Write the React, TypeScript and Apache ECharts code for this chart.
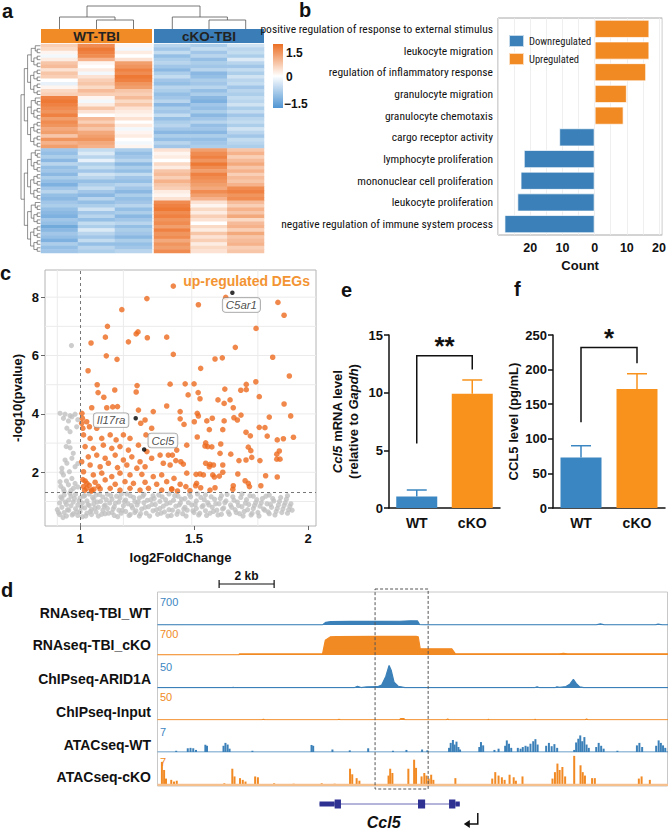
import React, { useEffect, useRef } from "react";
import * as echarts from "echarts";

const FONT = "'Liberation Sans', Arial, Helvetica, sans-serif";
const NARROW = "'Liberation Sans Narrow', 'Arial Narrow', 'Roboto Condensed', 'Liberation Sans', sans-serif";

const BLUE = "#3B80B8";
const ORANGE = "#F28A24";

// ---------- a: heatmap ----------
const samplesWT = ["WT-TBI 1", "WT-TBI 2", "WT-TBI 3"];
const samplesKO = ["cKO-TBI 1", "cKO-TBI 2", "cKO-TBI 3"];
const wt1 = [0.5, 0.4, 0.1, -0.1, 0.2, 0.6, 0.7, 0.3, 0.6, 0.5, 0.0, -0.2, 0.1, 0.4, 0.5, 1.3, 1.4, 1.3, 1.2, 1.1, 1.3, 1.0, 1.2, 1.1, 0.9, 1.0, 0.6, 1.1, 0.8, 1.0,
  -0.8, -0.9, -0.7, -1.0, -0.6, -0.9, -0.8, -1.0, -0.7, -0.9, -1.1, -0.8, -0.6, -0.9, -1.0, -0.8, -0.7, -0.9, -1.0, -1.1, -0.8, -0.9, -1.2, -1.0, -0.8, -0.9, -1.1, -0.7, -0.9, -0.8];
const wt2 = [1.2, 1.4, 1.3, 1.2, 0.8, 0.1, 0.0, 0.2, -0.1, 0.3, 0.5, 0.6, 0.4, 0.7, 0.5, 0.1, -0.1, 0.2, 0.6, 0.3, 0.0, 0.7, 0.5, 0.8, 0.6, 0.9, 1.0, 1.1, 0.9, 0.8,
  -0.5, -0.3, -0.6, -0.2, -0.7, -0.5, -0.8, -0.4, -0.6, -0.9, -0.7, -0.5, -0.8, -1.0, -0.6, -0.9, -0.7, -0.4, -0.8, -0.6, -0.9, -0.5, -0.7, -0.3, -0.6, -0.8, -0.5, -0.9, -0.6, -0.7];
const wt3 = [0.1, -0.1, 0.2, 0.0, 0.3, 1.0, 1.1, 1.3, 1.2, 1.4, 1.3, 1.1, 1.0, 0.6, 0.5, 0.7, 0.4, 0.6, 0.3, 0.2, 0.1, 0.3, 0.0, 0.2, -0.1, 0.1, 0.2, 0.0, -0.1, 0.1,
  -0.7, -0.9, -0.8, -0.6, -1.0, -0.7, -0.9, -0.5, -0.8, -0.9, -0.6, -0.8, -1.0, -0.7, -0.9, -0.8, -0.6, -0.9, -0.7, -1.0, -0.8, -0.6, -0.9, -0.7, -0.8, -1.0, -0.7, -0.9, -0.8, -0.6];
const ko1 = [-0.6, -0.8, -0.5, -0.9, -0.7, -0.6, -0.8, -1.0, -0.7, -0.5, -0.8, -0.9, -0.6, -0.7, -0.9, -0.8, -0.6, -1.0, -0.7, -0.8, -0.5, -0.9, -0.7, -0.6, -0.8, -1.0, -0.7, -0.9, -0.6, -0.8,
  0.3, 0.1, 0.2, 0.0, 0.4, 0.2, 0.6, 0.7, 0.5, 0.8, 0.6, 0.5, 0.2, 0.1, 0.3, 1.2, 1.3, 1.4, 1.2, 1.3, 1.1, 1.2, 1.0, 1.3, 1.1, 1.2, 0.9, 1.1, 1.0, 1.2];
const ko2 = [-0.7, -0.5, -0.8, -0.6, -0.9, -0.7, -0.8, -0.6, -1.0, -0.9, -0.7, -0.8, -0.6, -0.9, -0.7, -1.0, -1.1, -0.8, -0.9, -0.7, -1.0, -0.8, -0.6, -0.9, -0.8, -1.0, -0.7, -0.9, -0.8, -0.7,
  1.0, 1.2, 1.3, 1.1, 1.4, 1.2, 1.0, 1.3, 1.2, 1.1, 1.0, 0.9, 1.2, 1.0, 0.8, 0.3, 0.1, 0.4, 0.2, 0.5, 0.3, 0.0, 0.4, 0.2, 0.6, 0.3, 0.5, 0.2, 0.4, 0.3];
const ko3 = [-0.4, -0.6, -0.5, -0.7, -0.3, -0.6, -0.8, -0.5, -0.7, -0.4, -0.6, -0.5, -0.8, -0.6, -0.7, -0.5, -0.6, -0.4, -0.7, -0.5, -0.8, -0.6, -0.5, -0.7, -0.4, -0.6, -0.8, -0.5, -0.6, -0.7,
  0.6, 0.8, 0.5, 0.7, 0.9, 0.6, 0.8, 0.5, 0.7, 0.6, 0.8, 1.2, 1.3, 1.1, 1.2, 0.7, 0.5, 0.8, 0.6, 0.9, 0.4, 0.7, 0.8, 0.5, 0.9, 0.6, 0.7, 0.8, 0.5, 0.6];
const heatRows = wt1.map((_, i) => "gene" + (i + 1));
const colorBarTicks = ["1.5", "0", "\u22121.5"];

// ---------- b: GO terms ----------
const goTerms = [
  "positive regulation of response to external stimulus",
  "leukocyte migration",
  "regulation of inflammatory response",
  "granulocyte migration",
  "granulocyte chemotaxis",
  "cargo receptor activity",
  "lymphocyte proliferation",
  "mononuclear cell proliferation",
  "leukocyte proliferation",
  "negative regulation of immune system process",
];
const goCounts = [17, 17, 16, 10, 9, -11, -22, -23, -24, -28];

// ---------- c: volcano ----------
const upDegs = [
  [1.409, 8.38], [1.293, 7.95], [1.183, 7.57], [1.12, 7.0], [1.048, 6.43], [1.111, 6.63], [1.212, 6.47], [1.246, 6.74], [1.254, 6.81], [1.295, 6.61], [1.38, 6.63], [1.409, 6.04], [1.115, 5.99], [1.162, 5.87], [1.035, 5.48], [1.075, 5.0], [1.25, 4.97], [1.395, 5.02], [1.152, 4.82], [1.079, 4.73], [1.246, 4.75], [1.104, 4.57],
  [1.639, 7.99], [1.519, 7.74], [1.868, 7.82], [1.895, 7.38], [1.772, 6.93], [1.681, 6.28], [1.592, 5.88], [1.624, 5.92], [1.845, 5.94], [1.529, 5.56], [1.918, 5.3], [1.461, 5.03], [1.5, 5.03], [1.771, 5.1], [1.729, 5.01], [1.635, 4.85], [1.705, 4.81], [1.729, 4.83],
  [1.474, 4.65], [1.518, 4.73], [1.786, 4.59], [1.526, 4.52], [1.605, 4.48], [1.658, 4.48],
  [1.051, 4.21], [1.117, 4.21], [1.143, 4.24], [1.164, 4.25], [1.256, 4.13], [1.321, 4.08], [1.38, 4.27], [1.008, 4.02], [1.01, 3.85], [1.007, 3.68], [1.029, 3.73], [1.041, 3.56], [1.073, 3.51], [1.012, 3.51], [1.266, 3.68], [1.285, 3.79], [1.015, 3.28], [1.044, 3.16], [1.095, 3.16], [1.132, 3.28], [1.158, 3.11], [1.19, 3.28], [1.219, 3.16], [1.256, 2.93], [1.289, 3.28], [1.314, 3.51],
  [1.022, 2.88], [1.058, 2.82], [1.102, 2.93], [1.139, 2.82], [1.175, 2.88], [1.212, 2.76], [1.293, 2.71], [1.036, 2.53], [1.073, 2.59], [1.11, 2.48], [1.154, 2.59], [1.19, 2.42], [1.227, 2.53], [1.263, 2.36], [1.314, 2.48], [1.351, 2.59], [1.387, 2.59], [1.007, 2.36], [1.044, 2.25], [1.088, 2.19], [1.124, 2.31], [1.164, 2.16], [1.205, 2.25], [1.249, 2.14], [1.285, 2.19], [1.365, 2.31], [1.395, 2.25],
  [1.015, 2.02], [1.058, 1.91], [1.095, 1.97], [1.139, 1.85], [1.175, 1.97], [1.219, 1.91], [1.271, 1.93], [1.321, 1.85], [1.358, 1.91], [1.022, 1.7], [1.066, 1.66], [1.11, 1.74], [1.154, 1.59], [1.197, 1.68], [1.234, 1.62], [1.285, 1.66], [1.336, 1.59], [1.38, 1.68], [1.015, 1.51], [1.029, 1.45], [1.051, 1.39], [1.088, 1.43], [1.132, 1.45], [1.175, 1.39], [1.219, 1.45], [1.263, 1.39], [1.3, 1.45], [1.358, 1.39], [1.402, 1.43], [1.02, 1.38], [1.04, 1.55], [1.06, 1.42], [1.03, 1.62], [1.012, 1.75], [1.05, 1.36], [1.08, 1.52],
  [1.632, 4.36], [1.895, 4.34], [1.672, 4.21], [1.439, 4.08], [1.514, 4.02], [1.519, 3.93], [1.58, 3.85], [1.556, 3.76], [1.501, 3.73], [1.439, 3.83], [1.456, 3.64], [1.632, 3.76], [1.675, 3.87], [1.69, 3.79], [1.706, 3.96], [1.83, 3.89], [1.924, 3.93], [1.567, 3.46], [1.626, 3.46], [1.786, 3.54], [1.811, 3.53], [1.728, 3.37], [1.747, 3.25], [1.514, 3.21], [1.821, 3.24], [1.936, 3.2], [1.892, 3.15], [1.865, 3.11],
  [1.551, 3.01], [1.617, 2.97], [1.468, 2.93], [1.548, 2.9], [1.56, 2.88], [1.578, 2.87], [1.738, 2.86], [1.749, 2.74], [1.874, 2.73], [1.863, 2.62], [1.424, 2.76], [1.405, 2.59], [1.614, 2.65], [1.661, 2.62], [1.753, 2.51], [1.863, 2.45], [1.877, 2.45], [1.42, 2.4], [1.442, 2.36], [1.453, 2.28], [1.551, 2.31], [1.57, 2.27], [1.585, 2.25], [1.567, 2.19], [1.697, 2.4], [1.728, 2.42], [1.789, 2.4], [1.626, 2.25],
  [1.468, 1.97], [1.509, 1.93], [1.526, 1.94], [1.541, 1.91], [1.582, 1.91], [1.589, 1.84], [1.611, 1.87], [1.626, 2.0], [1.692, 1.94], [1.814, 1.88], [1.865, 1.84], [1.412, 1.79], [1.724, 1.71], [1.738, 1.62], [1.743, 1.51], [1.793, 1.54], [1.439, 1.59], [1.464, 1.51], [1.507, 1.54], [1.511, 1.62], [1.529, 1.47], [1.592, 1.47], [1.672, 1.54], [1.402, 1.42], [1.427, 1.36], [1.482, 1.37], [1.57, 1.39], [1.67, 1.42],
];
const nsGenes = [
  [0.962, 6.34],
  [0.912, 4.02], [0.934, 3.99], [0.956, 3.94], [0.978, 3.99], [0.927, 3.85], [0.949, 3.76], [0.964, 3.9], [0.985, 3.56], [0.942, 3.51], [0.956, 3.39], [0.939, 2.88], [0.956, 2.84], [0.934, 2.42], [0.964, 2.48], [0.942, 2.31], [0.92, 2.14], [0.953, 2.02], [0.978, 2.19], [0.927, 1.91], [0.964, 1.79], [0.912, 1.68], [0.949, 1.57], [0.978, 1.62], [0.927, 1.43], [0.971, 1.45], [0.93, 1.35], [0.96, 1.38], [0.99, 1.5], [0.915, 1.52], [0.94, 1.7], [0.99, 2.3], [0.97, 2.65], [0.95, 3.05], [0.99, 3.8], [0.92, 2.0],
  [0.9, 0.72], [0.91, 0.95], [0.91, 0.55], [0.92, 1.1], [0.92, 0.8], [0.93, 0.62], [0.93, 1.22], [0.94, 0.9], [0.94, 0.5], [0.95, 1.05], [0.95, 0.7], [0.96, 0.85], [0.96, 1.18], [0.97, 0.58], [0.97, 0.98], [0.98, 0.75], [0.98, 1.25], [0.99, 0.52], [0.99, 0.88], [1.0, 1.12], [1.0, 0.66], [1.01, 0.95], [1.01, 0.48], [1.02, 1.2], [1.02, 0.78], [1.03, 0.6], [1.03, 1.02], [1.04, 0.86], [1.04, 1.26], [1.05, 0.55], [1.05, 0.72], [1.06, 1.08], [1.06, 0.92], [1.07, 0.64], [1.07, 1.22], [1.08, 0.8], [1.08, 0.5], [1.09, 1.0], [1.1, 0.7], [1.1, 1.15], [1.11, 0.88], [1.11, 0.58], [1.12, 1.25], [1.12, 0.76], [1.13, 0.95], [1.14, 0.62], [1.14, 1.08], [1.15, 0.82], [1.15, 0.52], [1.16, 1.18], [1.17, 0.7], [1.17, 0.98], [1.18, 0.6], [1.18, 1.26], [1.19, 0.85], [1.2, 1.05], [1.2, 0.66], [1.21, 0.92], [1.22, 0.55], [1.22, 1.2], [1.23, 0.78], [1.24, 1.0], [1.24, 0.62], [1.25, 0.88], [1.26, 1.12], [1.26, 0.5], [1.27, 0.74], [1.28, 0.96], [1.28, 1.24], [1.29, 0.6], [1.3, 0.82], [1.31, 1.06], [1.32, 0.68], [1.32, 1.2], [1.33, 0.9], [1.34, 0.56], [1.35, 1.0], [1.35, 0.76], [1.36, 1.16], [1.37, 0.64], [1.38, 0.92], [1.39, 1.26], [1.39, 0.72], [1.4, 0.52], [1.41, 1.04], [1.42, 0.84], [1.43, 0.66], [1.43, 1.18], [1.44, 0.95], [1.45, 0.58], [1.46, 0.8], [1.46, 1.1], [1.47, 0.7], [1.48, 1.24], [1.49, 0.88], [1.5, 0.62], [1.51, 1.02], [1.51, 0.76], [1.52, 0.54], [1.53, 1.14], [1.54, 0.86], [1.55, 0.68], [1.55, 1.22], [1.56, 0.96], [1.57, 0.6], [1.58, 0.8], [1.59, 1.08], [1.6, 0.7], [1.61, 0.92], [1.62, 1.2], [1.62, 0.56], [1.63, 0.78], [1.64, 1.02], [1.65, 0.64], [1.66, 0.88], [1.67, 1.16], [1.68, 0.72], [1.69, 0.98], [1.7, 0.58], [1.71, 1.26], [1.71, 0.82], [1.72, 0.66], [1.73, 1.06], [1.74, 0.9], [1.75, 0.54], [1.76, 0.76], [1.76, 1.18], [1.77, 0.96], [1.78, 0.62], [1.79, 0.84], [1.8, 1.1], [1.81, 0.7], [1.82, 0.92], [1.83, 0.58], [1.83, 1.22], [1.84, 0.8], [1.85, 1.02], [1.86, 0.66], [1.87, 0.88], [1.88, 1.14], [1.89, 0.74], [1.9, 0.96], [1.91, 0.6], [1.91, 1.2], [1.92, 0.84], [1.93, 0.7],
  [0.905, 0.62], [0.915, 1.15], [0.925, 0.45], [0.935, 0.98], [0.945, 0.72], [0.955, 1.28], [0.965, 0.54], [0.975, 1.1], [0.985, 0.64], [0.995, 1.02], [1.005, 0.8], [1.015, 1.18], [1.025, 0.5], [1.035, 0.9], [1.045, 0.66], [1.055, 1.14], [1.065, 0.78], [1.075, 0.98], [1.085, 1.24], [1.095, 0.56], [1.105, 0.84], [1.115, 1.06], [1.125, 0.6], [1.135, 1.2], [1.145, 0.74], [1.155, 0.94], [1.165, 0.48], [1.175, 1.12], [1.185, 0.7], [1.195, 1.0], [1.205, 1.26], [1.215, 0.52], [1.225, 0.86], [1.235, 1.14], [1.245, 0.68], [1.255, 0.98], [1.265, 0.58], [1.275, 1.18], [1.285, 0.8], [1.295, 1.04], [1.305, 0.5], [1.315, 0.9], [1.325, 1.1], [1.335, 0.72], [1.345, 1.22], [1.355, 0.6], [1.365, 0.84], [1.375, 1.06], [1.385, 0.5], [1.395, 0.96], [1.405, 0.7], [1.415, 1.2], [1.425, 0.56], [1.435, 0.88], [1.445, 1.08], [1.455, 0.74], [1.465, 0.5], [1.475, 0.96], [1.485, 1.16], [1.495, 0.68], [1.505, 0.9], [1.515, 1.26], [1.525, 0.6], [1.535, 0.82], [1.545, 1.06], [1.555, 0.52], [1.565, 0.88], [1.575, 1.16], [1.585, 0.66], [1.595, 0.92], [1.605, 0.54], [1.615, 1.1], [1.625, 0.74], [1.635, 0.96], [1.645, 1.24], [1.655, 0.56], [1.665, 0.8], [1.675, 1.04], [1.685, 0.62], [1.695, 0.86], [1.705, 1.14], [1.715, 0.5], [1.725, 0.94], [1.735, 0.72], [1.745, 1.2], [1.755, 0.6], [1.765, 0.86], [1.775, 1.06], [1.785, 0.5], [1.795, 0.96], [1.805, 0.74], [1.815, 1.18], [1.825, 0.64], [1.835, 0.9], [1.845, 1.1], [1.855, 0.54], [1.865, 0.76], [1.875, 1.0], [1.885, 0.62], [1.895, 0.86], [1.905, 1.08], [1.915, 0.72], [1.925, 0.92],
];
const labeledGenes = [
  { name: "C5ar1", x: 1.668, y: 8.15 },
  { name: "Il17ra", x: 1.244, y: 3.85 },
  { name: "Ccl5", x: 1.281, y: 2.78 },
];
const fcCutoff = 1;
const pCutoff = 1.3;
const volcanoGridX = [0.9, 1.19, 1.49, 1.78];
const volcanoGridY = [1, 2, 3, 4, 5, 6, 7, 8];

// ---------- e / f ----------
const groups = ["WT", "cKO"];
const ccl5Mrna = [1.0, 9.9];
const ccl5MrnaSem = [0.56, 1.2];
const ccl5Protein = [73, 172];
const ccl5ProteinSem = [17, 22];
// [left leg bottom, bracket top, right leg bottom, star centre]
const mrnaBracket = [5.6, 13.2, 12.0, 14.6];
const proteinBracket = [124, 232, 209, 255];
const sigLabels = ["**", "*"];

// ---------- d: genome tracks (kb) ----------
const regionKb = 18.56;
const trackNames = ["RNAseq-TBI_WT", "RNAseq-TBI_cKO", "ChIPseq-ARID1A", "ChIPseq-Input", "ATACseq-WT", "ATACseq-cKO"];
const trackScales = [700, 700, 50, 50, 7, 7];
const rnaWt = [[0, 3], [6.0, 3], [6.12, 60], [6.3, 78], [7.0, 80], [8.0, 82], [8.8, 85], [9.2, 95], [9.45, 92], [9.53, 8], [9.7, 3], [15.95, 3], [16.1, 25], [16.25, 3], [18.1, 3], [18.2, 18], [18.35, 3], [18.56, 3]];
const rnaKo = [[0, 4], [2.96, 4], [2.98, 28], [6.0, 28], [6.1, 380], [6.28, 470], [6.5, 480], [8.0, 482], [9.4, 485], [9.48, 470], [9.55, 165], [10.7, 160], [10.83, 30], [14.6, 30], [14.76, 45], [14.9, 30], [18.56, 30]];
const chipArid = [[0, 0.5], [2.7, 0.5], [2.75, 1.2], [2.8, 0.5], [7.15, 0.5], [7.27, 3], [7.4, 0.8], [7.6, 1.8], [8.0, 2.2], [8.15, 5], [8.3, 20], [8.42, 39], [8.5, 30], [8.6, 10], [8.75, 3], [9.0, 0.8], [13.7, 0.5], [13.8, 2], [13.9, 0.5], [14.45, 0.5], [14.52, 2], [14.62, 1], [14.85, 2.5], [15.0, 7], [15.12, 15], [15.22, 8], [15.35, 2], [15.5, 0.5], [18.56, 0.5]];
const chipInput = [[0, 0.4], [3.8, 0.4], [3.85, 1.2], [3.9, 0.4], [6.55, 0.4], [6.6, 1.2], [6.65, 0.4], [8.8, 0.4], [8.85, 2.5], [8.95, 2.5], [9.0, 0.4], [10.5, 0.4], [10.55, 1.8], [10.6, 0.4], [12.0, 0.4], [12.03, 1], [12.06, 0.4], [13.7, 0.4], [13.73, 1], [13.76, 0.4], [15.55, 0.4], [15.6, 1.8], [15.65, 0.4], [18.56, 0.4]];
const atacWt = [[0.68, 0.3], [1.1, 0.9], [1.2, 1.0], [1.3, 0.9], [1.4, 0.5], [1.74, 1.75], [1.8, 1.5], [2.4, 1.5], [2.47, 2.2], [2.55, 1.8], [2.62, 0.8], [3.45, 0.3], [5.6, 1.7], [5.66, 1.5], [6.36, 0.6], [6.99, 0.4], [7.66, 0.9], [8.56, 0.3], [9.05, 0.5], [9.62, 0.6], [9.81, 0.4], [10.6, 1.0], [10.66, 2.2], [10.74, 2.9], [10.8, 1.8], [10.87, 2.5], [10.94, 1.2], [11.0, 0.6], [11.7, 1.2], [11.76, 2.4], [11.84, 1.6], [12.25, 0.5], [12.4, 0.8], [12.64, 1.5], [12.7, 2.8], [12.78, 2.0], [12.86, 1.0], [13.1, 1.0], [13.2, 0.8], [13.28, 1.2], [13.38, 1.5], [13.46, 1.3], [13.56, 2.0], [13.66, 2.6], [13.74, 3.1], [13.82, 1.8], [14.13, 1.5], [14.23, 2.2], [14.33, 1.4], [14.43, 1.9], [14.53, 1.0], [15.15, 0.5], [15.22, 2.3], [15.3, 3.2], [15.37, 4.0], [15.44, 2.6], [15.52, 3.6], [15.6, 1.8], [15.68, 1.0], [15.95, 1.2], [16.04, 2.2], [16.13, 1.5], [16.22, 0.8], [16.72, 0.3], [17.43, 1.6], [17.52, 2.2], [17.62, 1.2], [18.13, 1.5], [18.22, 2.8], [18.3, 2.2], [18.38, 1.6], [18.46, 1.0]];
const atacKo = [[0.16, 5.4], [0.24, 3.5], [0.31, 1.5], [0.5, 1.2], [0.6, 0.8], [0.7, 1.0], [2.43, 0.4], [2.72, 3.8], [2.8, 2.0], [3.0, 1.6], [3.1, 1.2], [3.2, 0.8], [3.55, 2.0], [3.65, 1.8], [4.24, 0.4], [4.95, 0.3], [5.97, 0.4], [6.44, 0.3], [7.0, 3.8], [7.08, 2.5], [7.24, 1.6], [7.34, 1.0], [8.4, 2.2], [8.46, 3.8], [8.54, 2.8], [9.12, 3.8], [9.33, 5.9], [9.4, 4.0], [9.6, 2.0], [9.7, 2.8], [9.78, 2.2], [9.86, 1.5], [9.95, 2.4], [10.03, 1.2], [10.83, 1.6], [12.17, 1.5], [12.28, 3.0], [12.4, 2.2], [12.52, 1.8], [12.62, 1.2], [12.8, 2.4], [12.95, 1.8], [13.03, 1.0], [13.27, 2.0], [14.36, 1.5], [14.45, 3.0], [14.54, 5.0], [14.62, 3.5], [14.72, 4.2], [14.82, 2.0], [15.15, 6.8], [15.38, 4.6], [15.46, 3.0], [15.54, 2.2], [15.8, 1.6], [15.9, 1.6], [17.5, 1.5], [17.6, 2.0], [17.9, 1.2]];
// gene model: [start kb, end kb, coding(1)/UTR(0)]
const ccl5Exons = [[5.89, 6.44, 0], [6.44, 6.67, 1], [9.47, 9.73, 1], [10.6, 10.83, 1], [10.83, 10.99, 0]];
const ccl5Span = [5.89, 10.99];
const highlightKb = [7.91, 9.84];
const scaleBarKb = [2.24, 4.24];

function rowDendrogram(n, top, rowH, xLeaf, xRoot) {
  const els = [];
  const depthMax = Math.log2(n);
  const rec = (lo, hi) => {
    if (hi - lo === 1) return [xLeaf, top + rowH * (lo + 0.5)];
    const mid = Math.floor((lo + hi) / 2);
    const c1 = rec(lo, mid);
    const c2 = rec(mid, hi);
    const x = xLeaf - ((xLeaf - xRoot) * Math.log2(hi - lo)) / depthMax;
    els.push({ type: "polyline", silent: true, shape: { points: [[c1[0], c1[1]], [x, c1[1]], [x, c2[1]], [c2[0], c2[1]]] }, style: { stroke: "#444", lineWidth: 0.6, fill: null } });
    return [x, (c1[1] + c2[1]) / 2];
  };
  rec(0, n);
  return els;
}

function text(x, y, t, o: any = {}) {
  return {
    type: "text", x, y, silent: true, z: 50,
    style: {
      text: t, fill: o.fill || "#111", fontSize: o.size || 13, fontWeight: o.weight || "bold",
      fontStyle: o.italic ? "italic" : "normal", fontFamily: o.family || FONT,
      align: o.align || "left", textAlign: o.align || "left",
      verticalAlign: o.valign || "middle", textVerticalAlign: o.valign || "middle",
    },
  };
}
function seg(x1, y1, x2, y2, stroke = "#444", lineWidth = 0.8) {
  return { type: "line", silent: true, shape: { x1, y1, x2, y2 }, style: { stroke, lineWidth } };
}

function buildOption() {
  const trackTop = [594, 628, 659, 691, 723, 755];
  const trackH = [31, 27, 29, 29, 29, 30];
  const trackColor = [BLUE, ORANGE, BLUE, ORANGE, BLUE, ORANGE];
  const trackData = [rnaWt, rnaKo, chipArid, chipInput, atacWt, atacKo];

  const grid: any[] = [
    { left: 41, top: 44, width: 111, height: 209 },
    { left: 154, top: 44, width: 110, height: 209 },
    { left: 498, top: 18, width: 170, height: 217, show: true, borderColor: "#A8A8A8", borderWidth: 1, backgroundColor: "#fff" },
    { left: 45, top: 270, width: 271, height: 256, show: true, borderColor: "#B4B4B4", borderWidth: 1, backgroundColor: "#fff" },
    { left: 389, top: 335, width: 111, height: 173 },
    { left: 553, top: 335, width: 112, height: 173 },
  ];
  trackTop.forEach((t, i) => grid.push({ left: 157.5, top: t, width: 510.5, height: trackH[i] }));
  grid.push({ left: 157.5, top: 798, width: 510.5, height: 12 });

  const hidden = { show: false };
  const xAxis: any[] = [
    { gridIndex: 0, type: "category", data: samplesWT, ...hidden },
    { gridIndex: 1, type: "category", data: samplesKO, ...hidden },
    {
      gridIndex: 2, type: "value", min: -30, max: 21, interval: 5,
      axisLine: { show: false }, axisTick: { show: false },
      splitLine: { show: true, lineStyle: { color: "#EBEBEB", width: 0.8 } },
      axisLabel: { formatter: (v) => (v % 10 === 0 && v > -30 ? String(Math.abs(v)) : ""), fontSize: 12.5, fontWeight: "bold", color: "#111", fontFamily: FONT, margin: 6 },
      name: "Count", nameLocation: "middle", nameGap: 24, nameTextStyle: { fontSize: 13, fontWeight: "bold", color: "#111", fontFamily: FONT },
    },
    {
      gridIndex: 3, type: "value", min: 0.846, max: 2.035,
      axisLine: { show: false }, splitLine: { show: false },
      axisTick: { show: true, customValues: [1, 1.5, 2], length: 4, lineStyle: { color: "#666" } },
      axisLabel: { customValues: [1, 1.5, 2], fontSize: 13, fontWeight: "bold", color: "#111", fontFamily: FONT, margin: 6 },
      name: "log2FoldChange", nameLocation: "middle", nameGap: 25, nameTextStyle: { fontSize: 13, fontWeight: "bold", color: "#111", fontFamily: FONT },
    },
    {
      gridIndex: 4, type: "category", data: groups,
      axisLine: { lineStyle: { color: "#111", width: 1.5 } },
      axisTick: { alignWithLabel: true, length: 5, lineStyle: { color: "#111", width: 1.5 } },
      axisLabel: { fontSize: 14, fontWeight: "bold", color: "#111", fontFamily: FONT, margin: 8 },
    },
    {
      gridIndex: 5, type: "category", data: groups,
      axisLine: { lineStyle: { color: "#111", width: 1.5 } },
      axisTick: { alignWithLabel: true, length: 5, lineStyle: { color: "#111", width: 1.5 } },
      axisLabel: { fontSize: 14, fontWeight: "bold", color: "#111", fontFamily: FONT, margin: 8 },
    },
  ];
  const yAxis: any[] = [
    { gridIndex: 0, type: "category", data: heatRows, inverse: true, ...hidden },
    { gridIndex: 1, type: "category", data: heatRows, inverse: true, ...hidden },
    {
      gridIndex: 2, type: "category", data: goTerms, inverse: true,
      axisLine: { show: false }, axisTick: { show: false },
      axisLabel: { fontSize: 11.5, color: "#111", fontFamily: NARROW, margin: 5 },
    },
    {
      gridIndex: 3, type: "value", min: 0.16, max: 8.93,
      axisLine: { show: false }, splitLine: { show: false },
      axisTick: { show: true, customValues: [2, 4, 6, 8], length: 4, lineStyle: { color: "#666" } },
      axisLabel: { customValues: [2, 4, 6, 8], fontSize: 13, fontWeight: "bold", color: "#111", fontFamily: FONT, margin: 6 },
      name: "-log10(pvalue)", nameLocation: "middle", nameGap: 21, nameTextStyle: { fontSize: 13, fontWeight: "bold", color: "#111", fontFamily: FONT },
    },
    {
      gridIndex: 4, type: "value", min: 0, max: 15, interval: 5,
      axisLine: { show: true, lineStyle: { color: "#111", width: 1.5 } },
      axisTick: { show: true, length: 5, lineStyle: { color: "#111", width: 1.5 } },
      splitLine: { show: false },
      axisLabel: { fontSize: 13, fontWeight: "bold", color: "#111", fontFamily: FONT, margin: 6 },
      name: "{i|Ccl5} mRNA level\n(relative to {i|Gapdh})", nameLocation: "middle", nameGap: 28,
      nameTextStyle: { fontSize: 13, fontWeight: "bold", color: "#111", fontFamily: FONT, lineHeight: 16, rich: { i: { fontStyle: "italic", fontWeight: "bold", fontSize: 13, fontFamily: FONT, color: "#111" } } },
    },
    {
      gridIndex: 5, type: "value", min: 0, max: 250, interval: 50,
      axisLine: { show: true, lineStyle: { color: "#111", width: 1.5 } },
      axisTick: { show: true, length: 5, lineStyle: { color: "#111", width: 1.5 } },
      splitLine: { show: false },
      axisLabel: { fontSize: 13, fontWeight: "bold", color: "#111", fontFamily: FONT, margin: 6 },
      name: "CCL5 level (pg/mL)", nameLocation: "middle", nameGap: 33,
      nameTextStyle: { fontSize: 13, fontWeight: "bold", color: "#111", fontFamily: FONT },
    },
  ];
  trackTop.forEach((_, i) => {
    xAxis.push({ gridIndex: 6 + i, type: "value", min: 0, max: regionKb, show: false });
    yAxis.push({ gridIndex: 6 + i, type: "value", min: 0, max: trackScales[i], show: false });
  });
  xAxis.push({ gridIndex: 12, type: "value", min: 0, max: regionKb, show: false });
  yAxis.push({ gridIndex: 12, type: "value", min: -1, max: 1, show: false });

  const series: any[] = [];
  // a
  series.push({ type: "heatmap", xAxisIndex: 0, yAxisIndex: 0, data: [wt1, wt2, wt3].flatMap((col, c) => col.map((v, r) => [c, r, v])), emphasis: { disabled: true } });
  series.push({ type: "heatmap", xAxisIndex: 1, yAxisIndex: 1, data: [ko1, ko2, ko3].flatMap((col, c) => col.map((v, r) => [c, r, v])), emphasis: { disabled: true } });
  // b
  series.push({ name: "Downregulated", type: "bar", xAxisIndex: 2, yAxisIndex: 2, barWidth: "84%", barGap: "-100%", data: goCounts.map((v) => (v < 0 ? v : "-")), itemStyle: { color: BLUE, borderColor: "rgba(255,255,255,0.7)", borderWidth: 1 }, z: 3 });
  series.push({ name: "Upregulated", type: "bar", xAxisIndex: 2, yAxisIndex: 2, barWidth: "84%", barGap: "-100%", data: goCounts.map((v) => (v > 0 ? v : "-")), itemStyle: { color: ORANGE, borderColor: "rgba(255,255,255,0.7)", borderWidth: 1 }, z: 3 });
  // c: grid lines behind points
  series.push({
    type: "custom", xAxisIndex: 3, yAxisIndex: 3, z: 1, silent: true,
    data: [...volcanoGridX.map((v) => [v, 0.16, v, 8.93]), ...volcanoGridY.map((v) => [0.846, v, 2.035, v])],
    encode: { x: [0, 2], y: [1, 3] },
    renderItem: (params, api) => {
      const p0 = api.coord([api.value(0), api.value(1)]);
      const p1 = api.coord([api.value(2), api.value(3)]);
      return { type: "line", shape: { x1: p0[0], y1: p0[1], x2: p1[0], y2: p1[1] }, style: { stroke: "#EBEBEB", lineWidth: 1 } };
    },
  });
  series.push({ type: "scatter", xAxisIndex: 3, yAxisIndex: 3, data: nsGenes, symbolSize: 5.2, itemStyle: { color: "#C0C0C0" }, z: 2, silent: true });
  series.push({
    type: "scatter", xAxisIndex: 3, yAxisIndex: 3, data: upDegs, symbolSize: 5.6, itemStyle: { color: "#EE6A1E" }, z: 4, silent: true,
    markLine: {
      silent: true, symbol: "none", label: { show: false },
      lineStyle: { color: "#777", width: 1, type: [3, 3] },
      data: [{ xAxis: fcCutoff }, { yAxis: pCutoff }],
    },
  });
  const geneLabelPos = {
    C5ar1: { position: "bottom", distance: 3, offset: [9, 0] },
    Il17ra: { position: "left", distance: 5, offset: [0, 2] },
    Ccl5: { position: "right", distance: 2, offset: [0, -9] },
  };
  series.push({
    type: "scatter", xAxisIndex: 3, yAxisIndex: 3, symbolSize: 4.5, itemStyle: { color: "#000" }, z: 6, silent: true,
    data: labeledGenes.map((g) => ({ name: g.name, value: [g.x, g.y], label: geneLabelPos[g.name] })),
    label: {
      show: true, formatter: "{b}", backgroundColor: "#fff", borderColor: "#8a8a8a", borderWidth: 0.8, borderRadius: 3,
      padding: [1, 3, 1, 3], fontSize: 11.5, fontStyle: "italic", color: "#222", fontFamily: FONT,
    },
  });
  // e & f
  const groupColors = ["#3A86C2", "#F8921C"];
  const barPanel = (idx, values, sems, bracket, star) => {
    series.push({
      type: "bar", xAxisIndex: idx, yAxisIndex: idx, barWidth: 41, z: 2,
      data: values.map((v, i) => ({ value: v, itemStyle: { color: groupColors[i] } })),
    });
    series.push({
      type: "custom", xAxisIndex: idx, yAxisIndex: idx, z: 3, silent: true,
      data: values.map((v, i) => [i, v, sems[i]]),
      encode: { x: 0, y: 1 },
      renderItem: (params, api) => {
        const i = api.value(0);
        const base = api.coord([i, api.value(1)]);
        const top = api.coord([i, api.value(1) + api.value(2)]);
        const c = groupColors[i];
        return {
          type: "group", children: [
            { type: "line", shape: { x1: base[0], y1: base[1], x2: top[0], y2: top[1] }, style: { stroke: c, lineWidth: 1.5 } },
            { type: "line", shape: { x1: top[0] - 10, y1: top[1], x2: top[0] + 10, y2: top[1] }, style: { stroke: c, lineWidth: 1.5 } },
          ],
        };
      },
    });
    series.push({
      type: "custom", xAxisIndex: idx, yAxisIndex: idx, z: 4, silent: true, clip: false,
      data: [[0, ...bracket]],
      encode: { x: 0, y: [1, 2, 3, 4] },
      renderItem: (params, api) => {
        const a = api.coord([0, api.value(1)]);
        const t0 = api.coord([0, api.value(2)]);
        const t1 = api.coord([1, api.value(2)]);
        const b = api.coord([1, api.value(3)]);
        const s = api.coord([0, api.value(4)]);
        return {
          type: "group", children: [
            { type: "polyline", shape: { points: [a, t0, t1, b] }, style: { stroke: "#111", lineWidth: 1.5, fill: null } },
            { type: "text", style: { text: star, x: (a[0] + b[0]) / 2, y: s[1] + 6, align: "center", verticalAlign: "middle", fontSize: 26, fontWeight: "bold", fill: "#111", fontFamily: FONT } },
          ],
        };
      },
    });
  };
  barPanel(4, ccl5Mrna, ccl5MrnaSem, mrnaBracket, sigLabels[0]);
  barPanel(5, ccl5Protein, ccl5ProteinSem, proteinBracket, sigLabels[1]);

  // d tracks
  trackData.forEach((d, i) => {
    const ax = 6 + i;
    const c = trackColor[i];
    if (i >= 4) {
      series.push({ type: "bar", xAxisIndex: ax, yAxisIndex: ax, data: d, barWidth: 2, itemStyle: { color: c }, silent: true });
      series.push({ type: "line", xAxisIndex: ax, yAxisIndex: ax, data: [[0, 0], [regionKb, 0]], symbol: "none", silent: true, lineStyle: { color: i === 5 ? "#F5C08E" : c, width: i === 5 ? 2.5 : 1.2 } });
    } else {
      series.push({ type: "line", xAxisIndex: ax, yAxisIndex: ax, data: d, symbol: "none", silent: true, lineStyle: { color: c, width: 1.2 }, areaStyle: { color: c, opacity: 1 } });
    }
  });
  // gene model + annotations sharing genomic x scale
  series.push({ type: "line", xAxisIndex: 12, yAxisIndex: 12, data: [[ccl5Span[0], 0], [ccl5Span[1], 0]], symbol: "none", silent: true, lineStyle: { color: "#6A6AB8", width: 1 } });
  series.push({
    type: "custom", xAxisIndex: 12, yAxisIndex: 12, silent: true, z: 5,
    data: ccl5Exons, encode: { x: [0, 1] },
    renderItem: (params, api) => {
      const p0 = api.coord([api.value(0), 0]);
      const p1 = api.coord([api.value(1), 0]);
      const h = api.value(2) === 1 ? 9 : 5;
      return { type: "rect", shape: { x: p0[0], y: p0[1] - h / 2, width: p1[0] - p0[0], height: h }, style: { fill: "#2E3192" } };
    },
  });
  series.push({
    type: "custom", xAxisIndex: 12, yAxisIndex: 12, silent: true, z: 20, clip: false,
    data: [[highlightKb[0], highlightKb[1], scaleBarKb[0], scaleBarKb[1], ccl5Span[0], ccl5Span[1]]],
    encode: { x: [0, 1] },
    renderItem: (params, api) => {
      const hx0 = api.coord([api.value(0), 0])[0];
      const hx1 = api.coord([api.value(1), 0])[0];
      const sx0 = api.coord([api.value(2), 0])[0];
      const sx1 = api.coord([api.value(3), 0])[0];
      const g0 = api.coord([api.value(4), 0])[0];
      const g1 = api.coord([api.value(5), 0])[0];
      const gm = (g0 + g1) / 2;
      const ax = g1 + 6;
      return {
        type: "group", children: [
          { type: "rect", shape: { x: hx0, y: 589, width: hx1 - hx0, height: 200 }, style: { fill: null, stroke: "#555", lineWidth: 1, lineDash: [3, 2] } },
          { type: "line", shape: { x1: sx0, y1: 584, x2: sx1, y2: 584 }, style: { stroke: "#111", lineWidth: 1.2 } },
          { type: "line", shape: { x1: sx0, y1: 580, x2: sx0, y2: 588 }, style: { stroke: "#111", lineWidth: 1.2 } },
          { type: "line", shape: { x1: sx1, y1: 580, x2: sx1, y2: 588 }, style: { stroke: "#111", lineWidth: 1.2 } },
          { type: "text", style: { text: "2 kb", x: (sx0 + sx1) / 2, y: 576, align: "center", verticalAlign: "middle", fontSize: 12, fontWeight: "bold", fill: "#111", fontFamily: FONT } },
          { type: "text", style: { text: "Ccl5", x: gm - 6, y: 822, align: "center", verticalAlign: "middle", fontSize: 16, fontWeight: "bold", fontStyle: "italic", fill: "#111", fontFamily: FONT } },
          { type: "polyline", shape: { points: [[ax + 12, 813], [ax + 12, 824], [ax + 2, 824]] }, style: { stroke: "#111", lineWidth: 1.5, fill: null } },
          { type: "polygon", shape: { points: [[ax - 2, 824], [ax + 4, 820], [ax + 4, 828]] }, style: { fill: "#111" } },
        ],
      };
    },
  });

  // graphics: panel letters, heatmap decorations, track labels
  const g: any[] = [];
  g.push(text(2, 11, "a", { size: 20 }));
  g.push(text(299, 10, "b", { size: 20 }));
  g.push(text(0, 273, "c", { size: 20 }));
  g.push(text(341, 290, "e", { size: 20 }));
  g.push(text(514, 289, "f", { size: 20 }));
  g.push(text(1, 590, "d", { size: 20 }));
  // heatmap headers
  g.push({ type: "rect", silent: true, shape: { x: 41, y: 29, width: 111, height: 14 }, style: { fill: "#F18B25" } });
  g.push({ type: "rect", silent: true, shape: { x: 154, y: 29, width: 110, height: 14 }, style: { fill: "#3A7DB7" } });
  g.push(text(96.5, 36.5, "WT-TBI", { align: "center", size: 13.5, fill: "#222" }));
  g.push(text(209, 36.5, "cKO-TBI", { align: "center", size: 13.5, fill: "#222" }));
  // column dendrogram
  [
    [87, 6, 200, 6], [87, 6, 87, 17], [200, 6, 200, 17],
    [59.5, 17, 115, 17], [59.5, 17, 59.5, 29], [115, 17, 115, 20], [96.5, 20, 133.5, 20], [96.5, 20, 96.5, 29], [133.5, 20, 133.5, 29],
    [172.3, 17, 227.4, 17], [172.3, 17, 172.3, 29], [227.4, 17, 227.4, 20], [209, 20, 245.7, 20], [209, 20, 209, 29], [245.7, 20, 245.7, 29],
  ].forEach((s) => g.push(seg(s[0], s[1], s[2], s[3], "#555", 0.8)));
  g.push(...rowDendrogram(heatRows.length, 44, 209 / heatRows.length, 40.5, 21));
  // color bar
  g.push({
    type: "rect", silent: true, shape: { x: 273, y: 44, width: 10, height: 64 },
    style: { fill: new echarts.graphic.LinearGradient(0, 0, 0, 1, [{ offset: 0, color: "#EC6F25" }, { offset: 0.5, color: "#FFFFFF" }, { offset: 1, color: "#4F95D3" }]) },
  });
  g.push(text(286, 53, colorBarTicks[0], { size: 12 }));
  g.push(text(286, 77, colorBarTicks[1], { size: 12 }));
  g.push(text(284, 104, colorBarTicks[2], { size: 12 }));
  // volcano title
  g.push(text(310, 281, "up-regulated DEGs", { size: 14, fill: "#F39433", align: "right" }));
  // tracks
  g.push({ type: "rect", silent: true, z: 0, shape: { x: 157.5, y: 592, width: 510, height: 194 }, style: { fill: null, stroke: "#C8C8C8", lineWidth: 1 } });
  const labelY = [613, 645, 679, 712, 745, 777];
  const scaleY = [602, 634, 667, 697, 732, 762];
  trackNames.forEach((n, i) => {
    g.push(text(151, labelY[i], n, { align: "right", size: 14 }));
    g.push(text(160, scaleY[i], String(trackScales[i]), { size: 11, weight: "normal", fill: trackColor[i] === BLUE ? "#3D86C2" : "#F08A1F" }));
  });

  return {
    animation: false,
    backgroundColor: "#fff",
    textStyle: { fontFamily: FONT },
    grid, xAxis, yAxis, series,
    visualMap: { type: "continuous", min: -1.5, max: 1.5, seriesIndex: [0, 1], show: false, inRange: { color: ["#4F95D3", "#FFFFFF", "#EC6F25"] } },
    legend: {
      data: ["Downregulated", "Upregulated"], orient: "vertical", left: 503, top: 29, itemWidth: 15, itemHeight: 12, itemGap: 4,
      icon: "rect", selectedMode: false, textStyle: { fontSize: 10.5, fontFamily: NARROW, color: "#222" },
    },
    graphic: g,
  };
}

export default function App() {
  const ref = useRef<HTMLDivElement>(null);
  useEffect(() => {
    const chart = echarts.init(ref.current, null, { renderer: "svg" });
    chart.setOption(buildOption());
    return () => chart.dispose();
  }, []);
  return <div ref={ref} style={{ position: "absolute", left: 0, top: 0, width: 669, height: 830, background: "#fff" }} />;
}
